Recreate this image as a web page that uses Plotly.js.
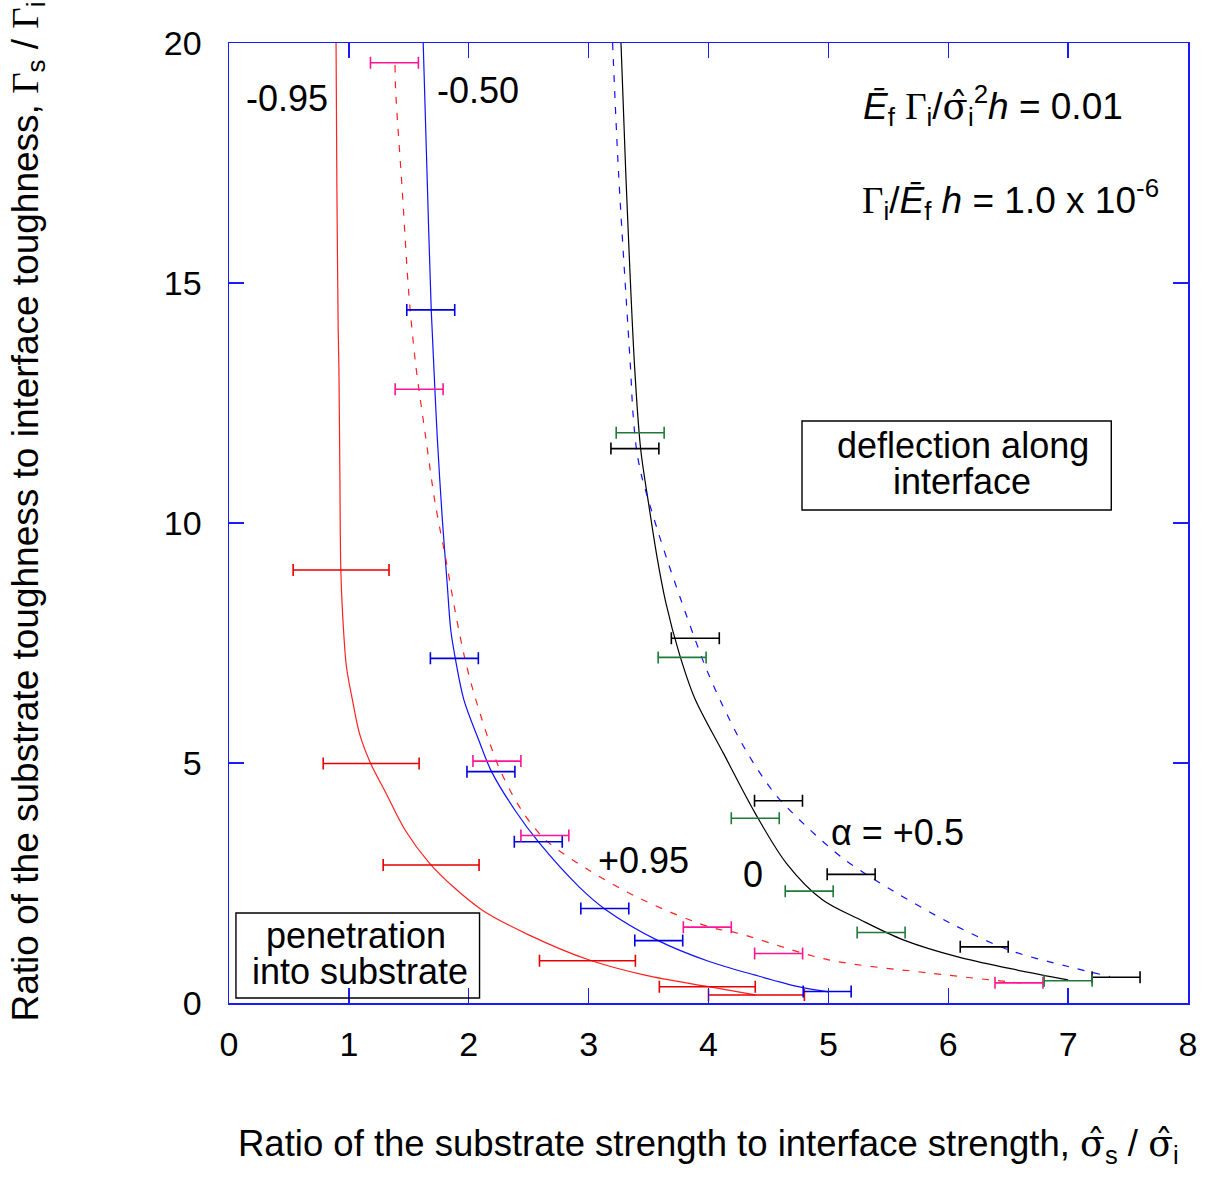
<!DOCTYPE html>
<html>
<head>
<meta charset="utf-8">
<script src="https://cdn.plot.ly/plotly-3.0.1.min.js"></script>
<style>html,body{margin:0;padding:0;background:#fff;}#chart{width:1206px;height:1184px;}</style>
</head>
<body>
<div id="chart"></div>
<script>
const redSolidX = [0.893, 0.900, 0.911, 0.917, 0.925, 0.933, 0.95, 0.98, 1.03, 1.09, 1.18, 1.31, 1.47, 1.67, 1.88, 2.11, 2.5, 3.0, 3.47, 4.0, 4.39];
const redSolidY = [20, 17, 14, 13.2, 11, 9.0, 8.0, 7.0, 6.31, 5.6, 5.0, 4.37, 3.6, 2.92, 2.4, 1.94, 1.42, 0.9, 0.58, 0.34, 0.17];

const blueSolidX = [1.62, 1.652, 1.687, 1.71, 1.737, 1.78, 1.82, 1.85, 1.89, 1.96, 2.08, 2.19, 2.39, 2.58, 2.92, 3.14, 3.58, 4.0, 4.39, 4.75, 5.0];
const blueSolidY = [20, 17.28, 14.44, 13.19, 11.8, 10.06, 8.74, 7.77, 7.15, 6.31, 5.5, 4.82, 4.0, 3.36, 2.42, 1.95, 1.30, 0.87, 0.58, 0.34, 0.23];

const redDashX = [1.385, 1.39, 1.445, 1.50, 1.556, 1.64, 1.72, 1.81, 1.89, 1.97, 2.06, 2.25, 2.44, 2.64, 3.0, 3.45, 4.0, 4.25, 5.0, 5.86, 6.51, 6.65];
const redDashY = [19.54, 19.02, 16.94, 14.78, 13.33, 11.8, 10.41, 9.23, 8.12, 7.15, 6.31, 4.92, 4.02, 3.40, 2.77, 2.15, 1.59, 1.45, 0.9, 0.62, 0.44, 0.41];

const blackSolidX = [3.27, 3.31, 3.385, 3.435, 3.50, 3.57, 3.645, 3.755, 3.885, 4.125, 4.39, 4.65, 4.95, 5.27, 5.63, 6.08, 6.51, 7.0];
const blackSolidY = [20, 17.28, 13.19, 11.52, 10.41, 9.30, 8.33, 7.29, 6.35, 5.2, 3.95, 2.91, 2.15, 1.73, 1.31, 0.96, 0.72, 0.48];

const blueDashX = [3.20, 3.25, 3.35, 3.37, 3.40, 3.44, 3.49, 3.575, 3.665, 3.77, 3.88, 3.985, 4.11, 4.31, 4.55, 4.82, 5.14, 5.53, 6.02, 6.51, 7.0, 7.35];
const blueDashY = [20, 17.28, 13.2, 12.29, 11.52, 11.0, 10.55, 9.85, 9.16, 8.40, 7.63, 6.94, 6.24, 5.27, 4.37, 3.67, 2.98, 2.35, 1.66, 1.10, 0.76, 0.55];

// ---- Error-bar data ----
const redBarX = [0.935, 1.186, 1.686, 2.99, 3.99, 4.40];
const redBarY = [9.02, 4.99, 2.875, 0.88, 0.34, 0.167];
const redBarErr = [0.4, 0.4, 0.4, 0.4, 0.4, 0.4];

const blueBarX = [1.683, 1.88, 2.185, 2.58, 3.135, 3.585, 4.99];
const blueBarY = [14.44, 7.18, 4.82, 3.36, 1.97, 1.30, 0.24];
const blueBarErr = [0.2, 0.2, 0.2, 0.2, 0.2, 0.2, 0.2];

const pinkBarX = [1.38, 1.586, 2.235, 2.635, 3.99, 4.585, 6.59];
const pinkBarY = [19.59, 12.785, 5.04, 3.49, 1.58, 1.03, 0.42];
const pinkBarErr = [0.2, 0.2, 0.2, 0.2, 0.2, 0.2, 0.2];

const blackBarX = [3.386, 3.89, 4.584, 5.19, 6.30, 7.40];
const blackBarY = [11.55, 7.60, 4.215, 2.68, 1.17, 0.535];
const blackBarErr = [0.2, 0.2, 0.2, 0.2, 0.2, 0.2];

const greenBarX = [3.43, 3.78, 4.39, 4.84, 5.44, 7.0];
const greenBarY = [11.88, 7.20, 3.85, 2.33, 1.47, 0.465];
const greenBarErr = [0.2, 0.2, 0.2, 0.2, 0.2, 0.2];

const xTickVals = [0, 1, 2, 3, 4, 5, 6, 7, 8];
const yTickVals = [0, 5, 10, 15, 20];

function curve(x, y, color, dash) {
  return {x: x, y: y, type: 'scatter', mode: 'lines', hoverinfo: 'skip',
    line: {color: color, width: 1.2, dash: dash || 'solid', shape: 'spline', smoothing: 0.9}, showlegend: false};
}
function bars(x, y, err, color) {
  return {x: x, y: y, type: 'scatter', mode: 'markers', hoverinfo: 'skip',
    marker: {size: 1, color: color, opacity: 0},
    error_x: {type: 'data', array: err, symmetric: true, color: color, thickness: 1.6, width: 6},
    showlegend: false};
}

const traces = [
  curve(redSolidX, redSolidY, '#ff2020'),
  curve(blueSolidX, blueSolidY, '#1010ff'),
  curve(redDashX, redDashY, '#ff2020', '7px,9px'),
  curve(blackSolidX, blackSolidY, '#000000'),
  curve(blueDashX, blueDashY, '#1010ff', '7px,9px'),
  bars(redBarX, redBarY, redBarErr, '#e60000'),
  bars(blueBarX, blueBarY, blueBarErr, '#0000e0'),
  bars(pinkBarX, pinkBarY, pinkBarErr, '#ff1493'),
  bars(blackBarX, blackBarY, blackBarErr, '#000000'),
  bars(greenBarX, greenBarY, greenBarErr, '#1f7a3a')
];

const F = 'Liberation Sans, Arial, Helvetica, sans-serif';
const G = '<span style="font-family:Liberation Serif, Times New Roman, serif">Γ</span>';
const S = '<span style="font-family:DejaVu Serif, serif">σ̂</span>';

function lab(x, y, text, size, xanchor) {
  return {x: x, y: y, xref: 'x', yref: 'y', text: text, showarrow: false,
    xanchor: xanchor || 'center', yanchor: 'middle', font: {family: F, size: size, color: '#000'}};
}

const annotations = [
  lab(0.483, 18.85, '-0.95', 36),
  lab(2.08, 19.02, '-0.50', 36),
  lab(3.46, 2.96, '+0.95', 36),
  lab(4.375, 2.67, '0', 36),
  lab(5.575, 3.56, 'α = +0.5', 36),
  lab(6.125, 11.625, 'deflection along', 36),
  lab(6.117, 10.875, 'interface', 36),
  lab(1.058, 1.396, 'penetration', 36),
  lab(1.092, 0.646, 'into substrate', 36),
  lab(5.275, 18.7, '<i>Ē</i><sub>f</sub> ' + G + '<sub>i</sub>/' + S + '<sub>i</sub><sup>2</sup><i>h</i> = 0.01', 37, 'left'),
  lab(5.26, 16.75, G + '<sub>i</sub>/<i>Ē</i><sub>f</sub> <i>h</i> = 1.0 x 10<sup>-6</sup>', 37, 'left'),
  {xref: 'paper', yref: 'paper', x: 0.50, y: -0.148, xanchor: 'center', yanchor: 'middle', showarrow: false,
    text: 'Ratio of the substrate strength to interface strength, ' + S + '<sub>s</sub> / ' + S + '<sub>i</sub>',
    font: {family: F, size: 36.5, color: '#000'}},
  {xref: 'paper', yref: 'paper', x: -0.2096, y: 0.512, xanchor: 'center', yanchor: 'middle', showarrow: false,
    textangle: -90,
    text: 'Ratio of the substrate toughness to interface toughness, ' + G + '<sub>s</sub> / ' + G + '<sub>i</sub>',
    font: {family: F, size: 37, color: '#000'}}
];

const shapes = [
  {type: 'rect', xref: 'x', yref: 'y', x0: 4.78, x1: 7.36, y0: 10.27, y1: 12.125, line: {color: '#000', width: 1.4}, fillcolor: 'rgba(0,0,0,0)'},
  {type: 'rect', xref: 'x', yref: 'y', x0: 0.058, x1: 2.09, y0: 0.104, y1: 1.875, line: {color: '#000', width: 1.4}, fillcolor: 'rgba(0,0,0,0)'}
];

const axisCommon = {
  showgrid: false, zeroline: false, showline: true, linecolor: '#1a1aff', linewidth: 1.5,
  mirror: 'ticks', ticks: 'inside', ticklen: 15, tickwidth: 1.3, tickcolor: '#1a1aff',
  tickfont: {family: F, size: 34, color: '#000'}
};

const layout = {
  width: 1206, height: 1184,
  margin: {l: 229, r: 18, t: 43, b: 181},
  paper_bgcolor: '#fff', plot_bgcolor: '#fff',
  showlegend: false,
  xaxis: Object.assign({}, axisCommon, {range: [0, 8], tickmode: 'array', tickvals: xTickVals, ticklabelstandoff: 11}),
  yaxis: Object.assign({}, axisCommon, {range: [0, 20], tickmode: 'array', tickvals: yTickVals, ticklabelstandoff: 19}),
  annotations: annotations,
  shapes: shapes
};

Plotly.newPlot('chart', traces, layout, {staticPlot: true, displayModeBar: false});
</script>
</body>
</html>
